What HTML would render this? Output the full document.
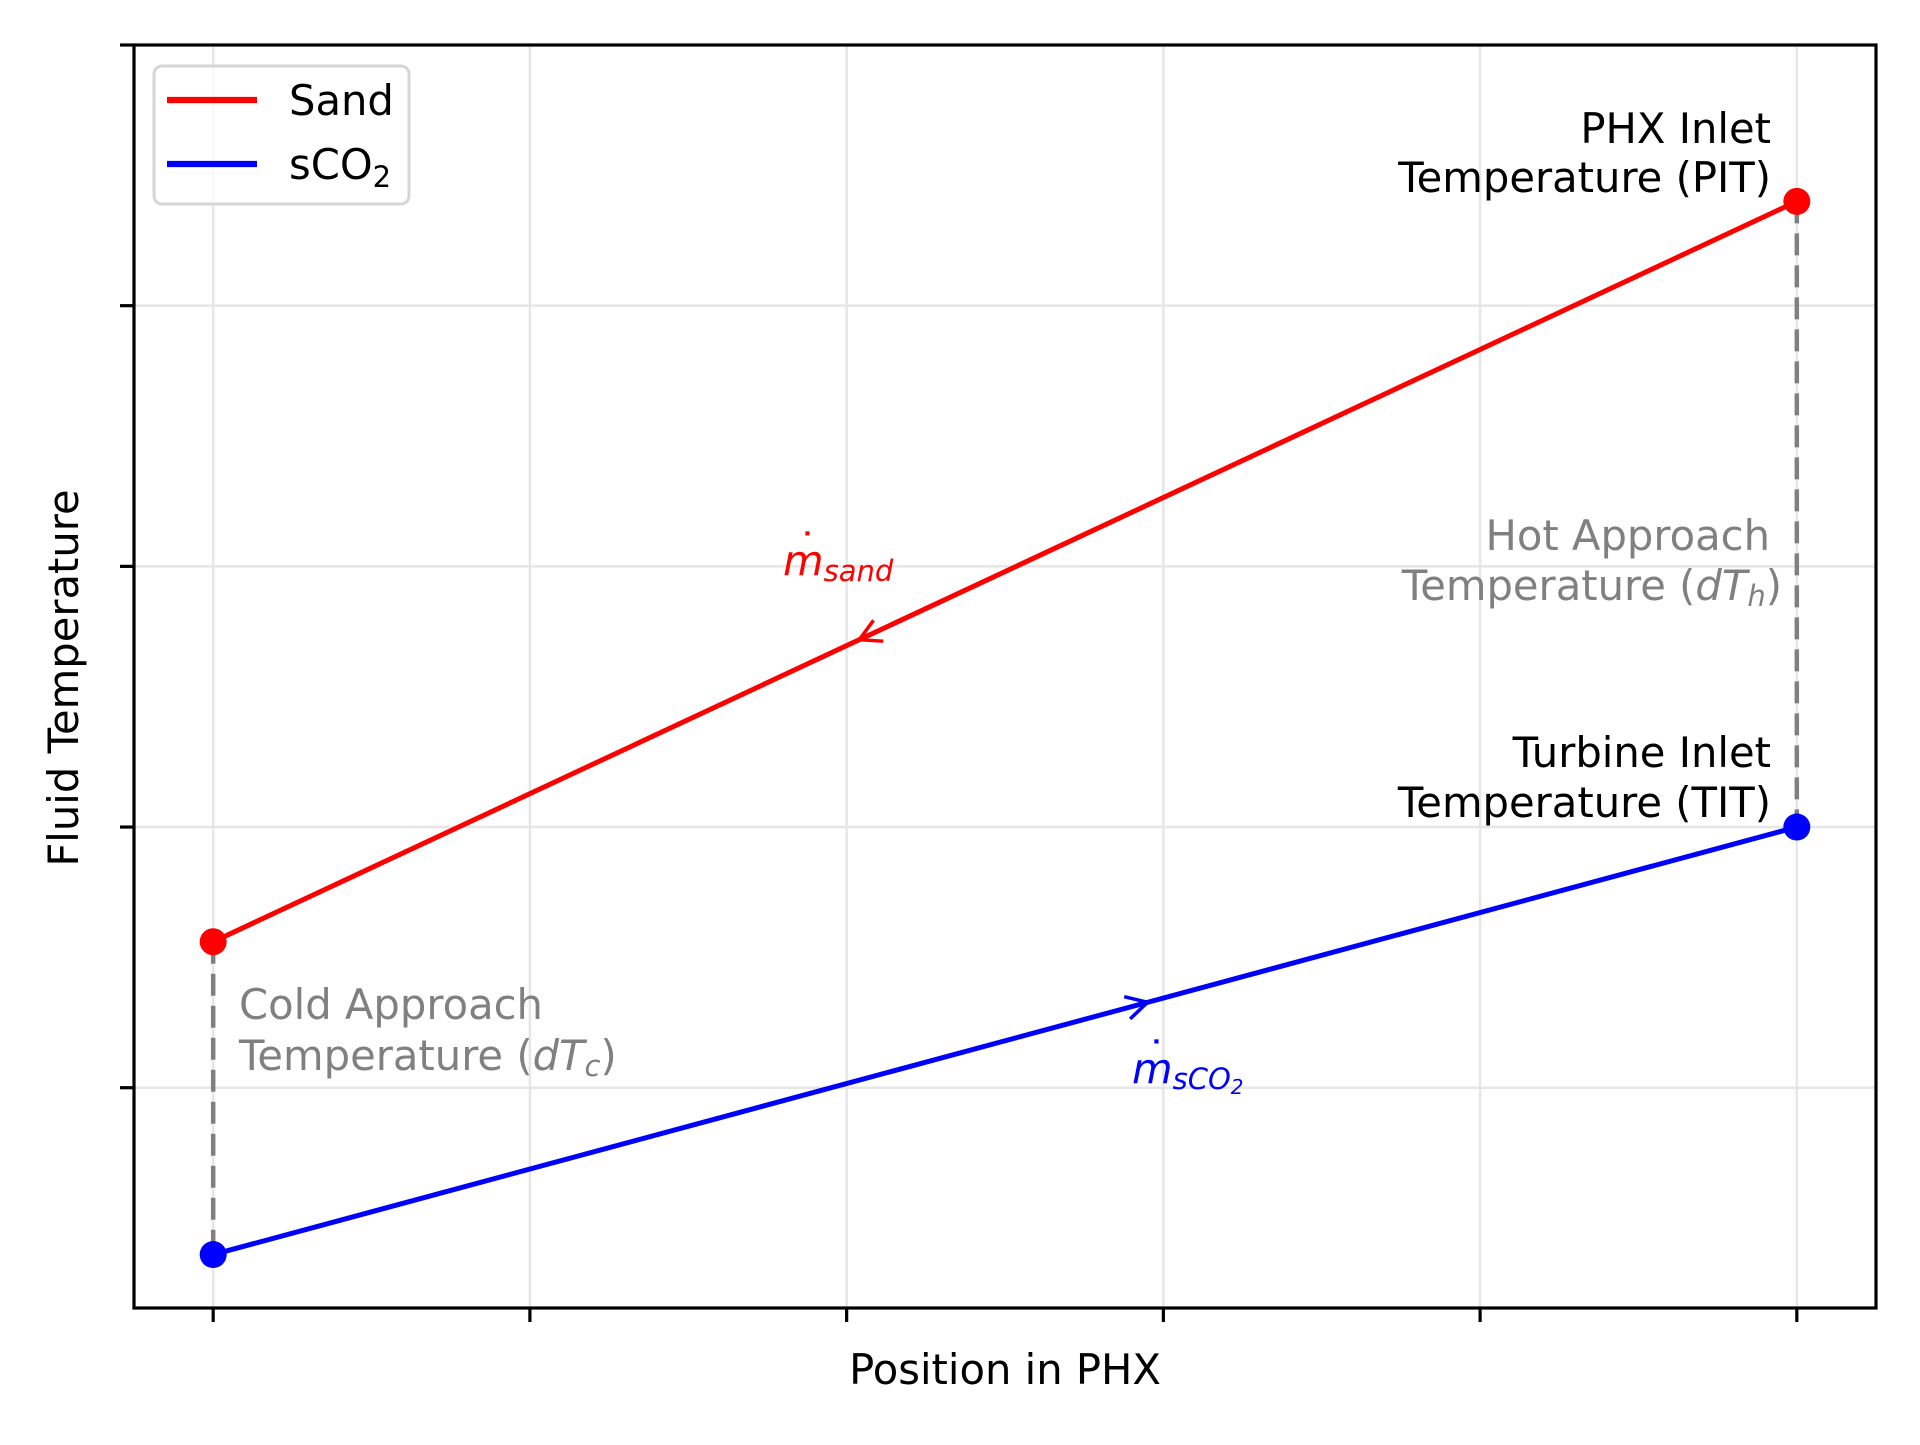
<!DOCTYPE html>
<html><head><meta charset="utf-8"><style>
html,body{margin:0;padding:0;background:#fff;}
svg text{font-family:"DejaVu Sans","Liberation Sans",sans-serif;}
</style></head><body>
<svg id="chart" width="1920" height="1440" viewBox="0 0 1920 1440" xmlns="http://www.w3.org/2000/svg">
<rect width="1920" height="1440" fill="#fff"/>
<g id="grid"></g>
<g id="guides"></g>
<g id="series"></g>
<g id="annot"></g>
<rect x="134" y="45" width="1742" height="1263" fill="none" stroke="#000" stroke-width="3.2"/>
<g id="ticks"></g>
<text x="1005" y="1384" font-size="41.7" text-anchor="middle">Position in PHX</text>
<text x="78" y="678" font-size="41.7" text-anchor="middle" transform="rotate(-90 78 678)">Fluid Temperature</text>
<g>
<rect x="154" y="66" width="255" height="138" rx="8" fill="#fff" fill-opacity="0.8" stroke="#d5d5d5" stroke-width="3"/>
<line x1="167" y1="100" x2="257" y2="100" stroke="#f00" stroke-width="6.25"/>
<text x="289" y="115" font-size="41.7">Sand</text>
<line x1="167" y1="164" x2="257" y2="164" stroke="#00f" stroke-width="6.25"/>
<text x="289" y="179" font-size="41.7">sCO<tspan font-size="29" dy="8">2</tspan></text>
</g>
</svg>
<script>
const xVals = [0, 1];
const sandTemps = [556, 840];
const sco2Temps = [436, 600];
const xTicks = [0, 0.2, 0.4, 0.6, 0.8, 1.0];
const yTicks = [500, 600, 700, 800, 900];
const X0=134,X1=1876,Y0=1308,Y1=45;
const xmin=-0.05,xmax=1.05,ymin=415.5,ymax=900;
const sx=v=>X0+(v-xmin)/(xmax-xmin)*(X1-X0);
const sy=v=>Y0-(v-ymin)/(ymax-ymin)*(Y0-Y1);
const NS="http://www.w3.org/2000/svg";
function mk(tag,attrs,parent){const e=document.createElementNS(NS,tag);for(const k in attrs)e.setAttribute(k,attrs[k]);document.getElementById(parent).appendChild(e);return e;}
xTicks.forEach((t,i)=>{
 const g=mk('line',{x1:sx(t),x2:sx(t),y1:Y1,y2:Y0,stroke:'#e6e6e6','stroke-width':2.5},'grid');
 
 
 const k=mk('line',{x1:sx(t),x2:sx(t),y1:Y0,y2:Y0+14,stroke:'#000','stroke-width':3.2},'ticks');
 
 
});
yTicks.forEach(t=>{
 const g=mk('line',{x1:X0,x2:X1,y1:sy(t),y2:sy(t),stroke:'#e6e6e6','stroke-width':2.5},'grid');
 
 
 const k=mk('line',{x1:X0-14,x2:X0,y1:sy(t),y2:sy(t),stroke:'#000','stroke-width':3.2},'ticks');
 
 
});
[[0,sandTemps[0],sco2Temps[0],'cold-approach-line'],[1,sandTemps[1],sco2Temps[1],'hot-approach-line']].forEach(d=>{
 const l=mk('line',{x1:sx(xVals[d[0]]),x2:sx(xVals[d[0]]),y1:sy(d[1]),y2:sy(d[2]),stroke:'#808080','stroke-width':4.5,'stroke-dasharray':'22 10'},'guides');
 
 
});
function series(vals,color,name){
 const l=mk('line',{x1:sx(xVals[0]),y1:sy(vals[0]),x2:sx(xVals[1]),y2:sy(vals[1]),stroke:color,'stroke-width':5},'series');
 
 
 vals.forEach((v,i)=>{
  const c=mk('circle',{cx:sx(xVals[i]),cy:sy(v),r:13.5,fill:color},'series');
  
  
 });
}
series(sandTemps,'#f00','sand');
series(sco2Temps,'#00f','sco2');
function arrow(vals,frac,dir,color,name){
 const xa=sx(xVals[0]),ya=sy(vals[0]),xb=sx(xVals[1]),yb=sy(vals[1]);
 const px=xa+(xb-xa)*frac,py=ya+(yb-ya)*frac;
 let ang=Math.atan2(yb-ya,xb-xa); if(dir<0) ang+=Math.PI;
 const L=24,w=0.5;
 const p1=[px-L*Math.cos(ang-w),py-L*Math.sin(ang-w)],p2=[px-L*Math.cos(ang+w),py-L*Math.sin(ang+w)];
 const a=mk('path',{d:`M${p1[0]},${p1[1]} L${px},${py} L${p2[0]},${p2[1]}`,fill:'none',stroke:color,'stroke-width':3.5},'annot');
 
 
}
arrow(sandTemps,0.408,-1,'#f00','sand-flow-arrow');
arrow(sco2Temps,0.59,1,'#00f','sco2-flow-arrow');
document.getElementById('annot').insertAdjacentHTML('beforeend',`
<text x="783" y="575" font-size="41.7" fill="#f00" font-style="italic">m<tspan font-size="29" dy="6">sand</tspan></text>
<text x="797" y="563" font-size="41.7" fill="#f00">˙</text>
<text x="1132" y="1083" font-size="41.7" fill="#00f" font-style="italic">m<tspan font-size="29" dy="6">sCO</tspan><tspan font-size="20" dy="5">2</tspan></text>
<text x="1146" y="1071" font-size="41.7" fill="#00f">˙</text>
<text font-size="41.7" text-anchor="end"><tspan x="1771" y="143">PHX Inlet</tspan><tspan x="1771" y="192">Temperature (PIT)</tspan></text>
<text font-size="41.7" text-anchor="end"><tspan x="1771" y="767">Turbine Inlet</tspan><tspan x="1771" y="817">Temperature (TIT)</tspan></text>
<text font-size="41.7" fill="#808080" text-anchor="end"><tspan x="1770" y="550">Hot Approach</tspan><tspan x="1782" y="600">Temperature (<tspan font-style="italic">dT</tspan><tspan font-size="29" dy="6" font-style="italic">h</tspan><tspan dy="-6">)</tspan></tspan></text>
<text font-size="41.7" fill="#808080"><tspan x="239" y="1019">Cold Approach</tspan><tspan x="239" y="1070">Temperature (<tspan font-style="italic">dT</tspan><tspan font-size="29" dy="6" font-style="italic">c</tspan><tspan dy="-6">)</tspan></tspan></text>`);
</script>
</body></html>
